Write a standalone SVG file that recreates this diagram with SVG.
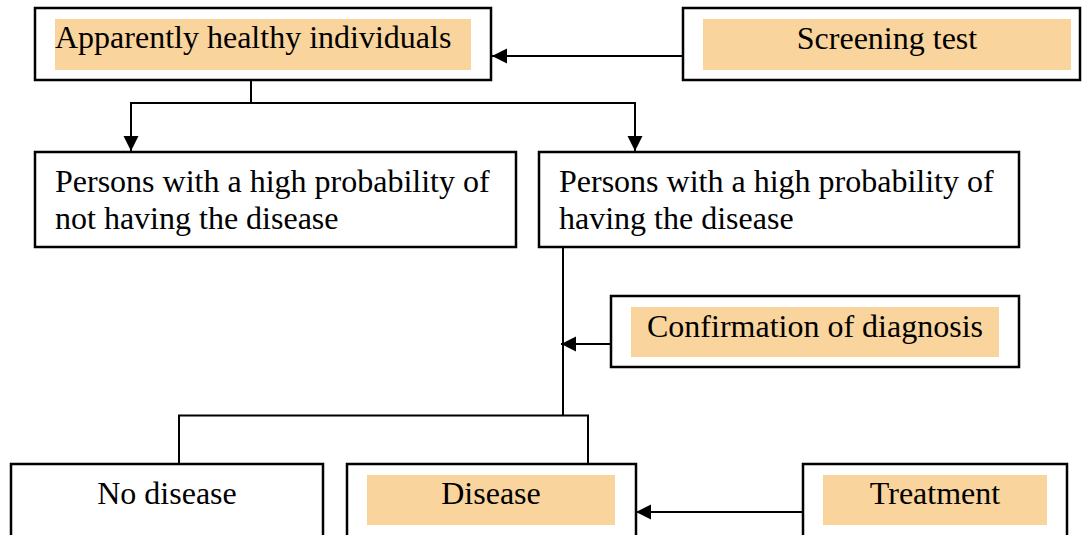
<svg xmlns="http://www.w3.org/2000/svg" width="1082" height="535" viewBox="0 0 1082 535">
  <defs>
    <style>
      .box { fill: #ffffff; stroke: #000000; stroke-width: 2.5; }
      .hl { fill: #FAD49D; stroke: none; }
      .t { font-family: "Liberation Serif", "Times New Roman", serif; font-size: 32px; fill: #000000; }
      .c { text-anchor: middle; }
      .line { fill: none; stroke: #000000; stroke-width: 2; }
      .arr { fill: none; stroke: #000000; stroke-width: 2; marker-end: url(#ah); }
    </style>
    <marker id="ah" markerUnits="userSpaceOnUse" markerWidth="16" markerHeight="16" refX="15" refY="7.5" orient="auto">
      <path d="M0,0 L15,7.5 L0,15 z" fill="#000000"/>
    </marker>
  </defs>
  <rect width="1082" height="535" fill="#ffffff"/>

  <g id="connectors">
    <path class="arr" d="M683,56 H492"/>
    <path class="line" d="M251,80 V103"/>
    <path class="line" d="M131,103 H635"/>
    <path class="arr" d="M131,102 V151"/>
    <path class="arr" d="M635,102 V151"/>
    <path class="line" d="M563,247 V416"/>
    <path class="arr" d="M611,344 H561"/>
    <path class="line" d="M179,464 V415.5 H588 V464"/>
    <path class="arr" d="M803,512 H636"/>
  </g>

  <g id="node-apparently-healthy">
    <rect class="box" x="35" y="8" width="456" height="72"/>
    <rect class="hl" x="55" y="19" width="416" height="51"/>
    <text class="t" x="55" y="48">Apparently healthy individuals</text>
  </g>

  <g id="node-screening-test">
    <rect class="box" x="683" y="8" width="397" height="72"/>
    <rect class="hl" x="703" y="19" width="368" height="51"/>
    <text class="t c" x="887" y="49">Screening test</text>
  </g>

  <g id="node-not-having">
    <rect class="box" x="35" y="152" width="481" height="95"/>
    <text class="t" x="55" y="192">Persons with a high probability of</text>
    <text class="t" x="55" y="229">not having the disease</text>
  </g>

  <g id="node-having">
    <rect class="box" x="539" y="152" width="480" height="95"/>
    <text class="t" x="559" y="192">Persons with a high probability of</text>
    <text class="t" x="559" y="229">having the disease</text>
  </g>

  <g id="node-confirmation">
    <rect class="box" x="611" y="296" width="408" height="71"/>
    <rect class="hl" x="631" y="307" width="368" height="50"/>
    <text class="t c" x="815" y="337">Confirmation of diagnosis</text>
  </g>

  <g id="node-no-disease">
    <rect class="box" x="11" y="464" width="312" height="100"/>
    <text class="t c" x="167" y="504">No disease</text>
  </g>

  <g id="node-disease">
    <rect class="box" x="347" y="464" width="289" height="100"/>
    <rect class="hl" x="367" y="475" width="248" height="50"/>
    <text class="t c" x="491" y="504">Disease</text>
  </g>

  <g id="node-treatment">
    <rect class="box" x="803" y="464" width="264" height="100"/>
    <rect class="hl" x="823" y="475" width="224" height="50"/>
    <text class="t c" x="935" y="504">Treatment</text>
  </g>
</svg>
